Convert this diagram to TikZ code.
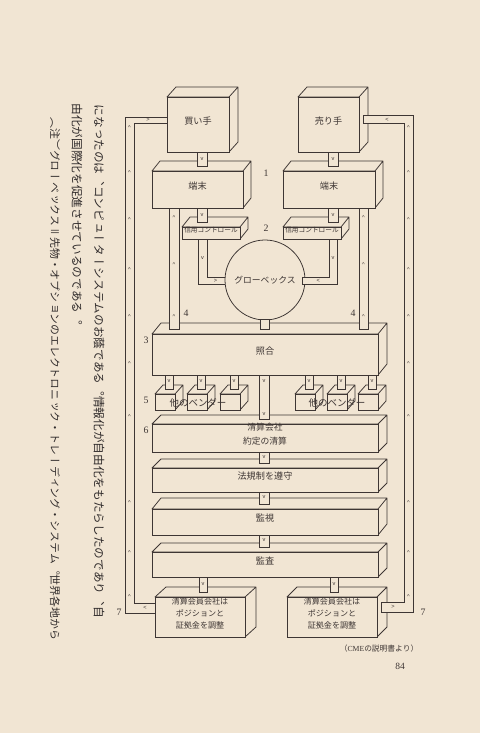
\documentclass[tikz,border=0pt]{standalone}
\usepackage{fontspec}
\setmainfont{Liberation Serif}
\newfontfamily\jp{Noto Sans CJK JP}
\newfontfamily\vjp[Vertical=RotatedGlyphs, RawFeature=+vert]{Noto Sans CJK JP}
\newfontfamily\mk{Liberation Sans}
\usetikzlibrary{calc, fit}

\definecolor{paper}{RGB}{241,229,211}
\definecolor{ink}{RGB}{62,54,52}
\definecolor{inkdark}{RGB}{48,43,43}

\begin{document}
\begin{tikzpicture}[
    x=0.5mm, y=-0.5mm,
    color=ink, line width=1.1pt,
    cube/.style={draw, fill=paper, inner sep=0pt, outer sep=0pt, align=center,
        font=\jp\fontsize{13}{17}\selectfont,
        append after command={\pgfextra{%
            \draw[fill=paper, line join=round]
                (\tikzlastnode.north west) -- ++(#1)
                -- ($(\tikzlastnode.north east)+(#1)$)
                -- ($(\tikzlastnode.south east)+(#1)$)
                -- (\tikzlastnode.south east) -- (\tikzlastnode.north east) -- cycle
                (\tikzlastnode.north east) -- ++(#1);}}},
    pipe/.style={draw, fill=paper},
    dirmark/.style={font=\mk\fontsize{8}{8}\selectfont, inner sep=0pt},
    num/.style={font=\fontsize{14}{14}\selectfont, inner sep=0pt},
    vend/.style={font=\jp\fontsize{13.5}{14}\selectfont, inner sep=0pt},
    vcol/.style={rotate=-90, anchor=west, inner sep=0pt, text=inkdark},
]
\fill[paper] (0,0) rectangle (480,733);
\useasboundingbox (0,0) rectangle (480,733);

% ---- traders and terminals ----
\node[cube={9,-10}, fit={(167,97) (229,152)}] (buyer) {買い手};
\node[cube={9,-10}, fit={(298,97) (359,152)}] (seller) {売り手};
\node[cube={8,-10}, fit={(152,171) (243,208)}] (termL) {端末};
\node[cube={8,-10}, fit={(283,171) (375,208)}] (termR) {端末};
\node[cube={8,-10}, fit={(182,227) (240,239)}, font=\jp\fontsize{9.5}{10}\selectfont] (credL) {信用コントロール};
\node[cube={8,-10}, fit={(283,227) (341,239)}, font=\jp\fontsize{9.5}{10}\selectfont] (credR) {信用コントロール};
\node[draw, circle, fill=paper, minimum size=40mm, inner sep=0pt,
      font=\jp\fontsize{12.5}{13}\selectfont] (globex) at (265,280) {グローベックス};

% ---- matching and vendors ----
\node[cube={9,-11}, fit={(152,334) (378,375)}] (match) {照合};
\foreach \n/\a in {vL1/155, vL2/187, vL3/220, vR1/295, vR2/327, vR3/358}
    \node[cube={8,-9}, fit={(\a,394) (\a+20,410)}] (\n) {};

% ---- clearing chain ----
\node[cube={9,-9}, fit={(152,424) (378,452)}, font=\jp\fontsize{12.5}{19}\selectfont] (clear) {清算会社\\約定の清算};
\node[cube={9,-9}, fit={(152,468) (378,492)}] (law) {法規制を遵守};
\node[cube={9,-11}, fit={(152,509) (378,535)}] (watch) {監視};
\node[cube={9,-9}, fit={(152,552) (378,577)}] (audit) {監査};
\node[cube={11,-10}, fit={(155,597) (245,637)}, font=\jp\fontsize{11.5}{17}\selectfont] (memL) {清算会員会社は\\ポジションと\\証拠金を調整};
\node[cube={10,-10}, fit={(287,597) (377,637)}, font=\jp\fontsize{11.5}{17}\selectfont] (memR) {清算会員会社は\\ポジションと\\証拠金を調整};

% ---- short pipes ----
\draw[pipe] ($(buyer.south)+(-1,0)$) rectangle ($(termL.north)+(9.5,-5)$);
\node[dirmark] at ($(buyer.south)+(4,7)$) {v};
\draw[pipe] ($(seller.south)+(-0.5,0)$) rectangle ($(termR.north)+(9,-5)$);
\node[dirmark] at ($(seller.south)+(4.5,7)$) {v};
\draw[pipe] ($(termL.south)+(-0.5,0)$) rectangle ($(credL.north)+(-4,-5)$);
\node[dirmark] at ($(termL.south)+(4.5,7)$) {v};
\draw[pipe] ($(termR.south)+(-1,0)$) rectangle ($(credR.north)+(26,-5)$);
\node[dirmark] at ($(termR.south)+(4,7)$) {v};

% ---- credit control to Globex ----
\draw ($(credL.south west)+(16,0)$) |- (globex.186);
\draw ($(credL.south west)+(25,0)$) |- (globex.176);
\node[dirmark] at ($(credL.south west)+(20.5,19)$) {v};
\node[dirmark] at ($(globex.west)+(-9,0.7)$) {>};
\fill[paper] ($(globex.east)+(-3,-3)$) rectangle ($(globex.east)+(1,4)$);
\draw ($(credR.south west)+(54,0)$) |- ($(globex.east)+(-3,4)$) -- ($(globex.east)+(-3,-3)$) -| ($(credR.south west)+(46,0)$);
\node[dirmark] at ($(credR.south west)+(50,19)$) {v};
\node[dirmark] at ($(globex.east)+(13,0.5)$) {<};
\draw[pipe] ($(globex.south)+(-5,-1)$) rectangle ($(match.north)+(4,-5)$);

% ---- terminals to matching (4) ----
\draw[pipe] ($(termL.south west)+(17,0)$) rectangle ($(match.north west)+(27,-5)$);
\draw[pipe] ($(termR.south east)+(-16,0)$) rectangle ($(match.north east)+(-10,-5)$);
\foreach \y in {218,265,317} {
    \node[dirmark] at (174,\y) {\textasciicircum};
    \node[dirmark] at (363.5,\y) {\textasciicircum};
}

% ---- matching to vendors and clearing ----
\foreach \n in {vL1, vL2, vL3, vR1, vR2, vR3} {
    \draw[pipe] (\n.north |- match.south) rectangle ($(\n.north)+(8,-5)$);
    \node[dirmark] at ($(\n.north)+(4,-13)$) {v};
}
\node[vend] (vtxtL) at (198,403) {他のベンダー};
\node[vend] (vtxtR) at (337,403) {他のベンダー};
\draw[pipe] ($(match.south)+(-6,0)$) rectangle ($(clear.north)+(4,-5)$);
\node[dirmark] at ($(match.south)+(-1,6)$) {v};
\node[dirmark] at ($(clear.north)+(-1,-10)$) {v};
\foreach \a/\b in {clear/law, law/watch, watch/audit} {
    \draw[pipe] ($(\a.south)+(-6,0)$) rectangle ($(\b.north)+(4,-5)$);
    \node[dirmark] at ($(\a.south)+(-1,5.5)$) {v};
}
\draw[pipe] ($(audit.south)+(-66,0)$) rectangle ($(memL.north)+(7,-5)$);
\node[dirmark] at ($(audit.south)+(-62,7)$) {v};
\draw[pipe] ($(audit.south)+(65,0)$) rectangle ($(memR.north)+(6,-5)$);
\node[dirmark] at ($(audit.south)+(69,7)$) {v};

% ---- feedback loops (7) ----
\draw ($(buyer.west)+(0,-7.5)$) -| ($(memL.west)+(-30,-4)$) -- ($(memL.west)+(0,-4)$);
\draw ($(buyer.west)+(0,-1.5)$) -| ($(memL.west)+(-21,-14)$) -- ($(memL.west)+(0,-14)$);
\node[dirmark] at ($(buyer.west)+(-19,-4.5)$) {>};
\node[dirmark] at ($(memL.west)+(-10,-9)$) {<};
\fill[paper] ($(seller.east)+(4,-9.5)$) rectangle ($(seller.east)+(12,-1.5)$);
\fill[paper] ($(memR.east)+(4,-15)$) rectangle ($(memR.east)+(12,-5)$);
\draw ($(seller.east)+(4,-1.5)$) -- ($(seller.east)+(4,-9.5)$) -| ($(memR.east)+(36,-5)$)
    -- ($(memR.east)+(4,-5)$) -- ($(memR.east)+(4,-15)$) -| ($(seller.east)+(45,-1.5)$) -- cycle;
\node[dirmark] at ($(seller.east)+(28,-5)$) {<};
\node[dirmark] at ($(memR.east)+(16,-10)$) {>};
\foreach \y in {128,173,220,270,317,364,417,503,553,597} {
    \node[dirmark] at (129.5,\y) {\textasciicircum};
    \node[dirmark] at (408.5,\y) {\textasciicircum};
}

% ---- step numbers ----
\node[num] (n1) at (266,173) {1};
\node[num] (n2) at (266,228) {2};
\node[num] (n3) at (146,340) {3};
\node[num] (n4l) at (186,313) {4};
\node[num] (n4r) at (353,313) {4};
\node[num] (n5) at (146,400) {5};
\node[num] (n6) at (146,430) {6};
\node[num] (n7l) at (119,612) {7};
\node[num] (n7r) at (423,612) {7};

% ---- source and page ----
\node[inner sep=0pt, font=\fontsize{11}{11}\selectfont] (src) at (379,649) {{\jp （}CME{\jp の説明書より）}};
\node[inner sep=0pt, font=\fontsize{13.5}{13.5}\selectfont] (page) at (400,666) {84};

% ---- body text (vertical) ----
\node[vcol, font=\vjp\fontsize{16.6}{17}\selectfont] (col1) at (99,104)
    {になったのは、コンピューターシステムのお蔭である。情報化が自由化をもたらしたのであり、自};
\node[vcol, font=\vjp\fontsize{16.6}{17}\selectfont] (col2) at (77,103)
    {由化が国際化を促進させているのである。};
\node[vcol, font=\vjp\fontsize{15.5}{16}\selectfont] (col3) at (55,117)
    {（注）グローベックス＝先物・オプションのエレクトロニック・トレーディング・システム。世界各地から};
\end{tikzpicture}
\end{document}
